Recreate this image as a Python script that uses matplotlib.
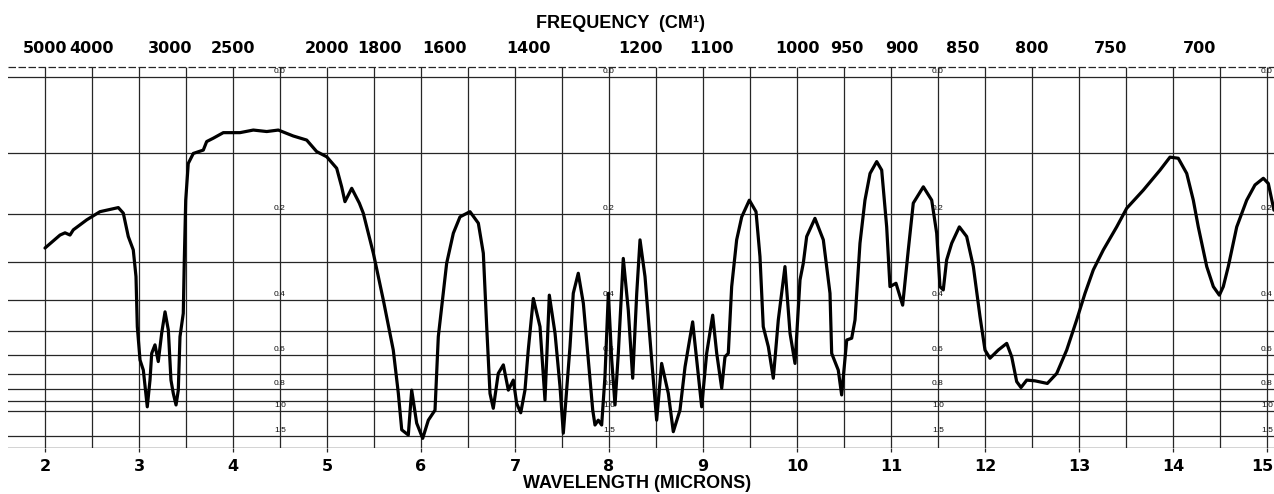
import numpy as np
import matplotlib
matplotlib.use("Agg")
import matplotlib.pyplot as plt
from matplotlib.transforms import offset_copy

# wavelength (microns) and percent transmittance
wavelength = [2.000, 2.160, 2.213, 2.266, 2.301, 2.444, 2.585, 2.780, 2.833, 2.886,
              2.939, 2.968, 2.982, 3.011, 3.046, 3.088, 3.117, 3.135, 3.170, 3.205,
              3.241, 3.277, 3.312, 3.340, 3.365, 3.394, 3.418, 3.436, 3.471, 3.482,
              3.497, 3.524, 3.578, 3.684, 3.720, 3.790, 3.897, 4.074, 4.216, 4.359,
              4.482, 4.641, 4.784, 4.890, 4.997, 5.103, 5.156, 5.191, 5.263, 5.344,
              5.386, 5.493, 5.599, 5.705, 5.759, 5.795, 5.865, 5.901, 5.954, 6.018,
              6.078, 6.149, 6.184, 6.273, 6.344, 6.415, 6.521, 6.610, 6.663, 6.699,
              6.734, 6.769, 6.822, 6.876, 6.929, 6.982, 7.018, 7.061, 7.106, 7.141,
              7.195, 7.266, 7.319, 7.365, 7.426, 7.479, 7.514, 7.585, 7.620, 7.673,
              7.727, 7.780, 7.827, 7.851, 7.886, 7.922, 7.957, 7.993, 8.029, 8.064,
              8.099, 8.152, 8.205, 8.252, 8.295, 8.330, 8.383, 8.454, 8.507, 8.560,
              8.631, 8.684, 8.755, 8.809, 8.890, 8.933, 8.986, 9.039, 9.103, 9.146,
              9.199, 9.234, 9.269, 9.305, 9.358, 9.412, 9.493, 9.564, 9.606, 9.641,
              9.695, 9.748, 9.801, 9.872, 9.926, 9.979, 10.032, 10.067, 10.103, 10.191,
              10.280, 10.351, 10.369, 10.439, 10.475, 10.529, 10.582, 10.617, 10.670, 10.723,
              10.777, 10.848, 10.901, 10.954, 10.989, 11.053, 11.124, 11.184, 11.237, 11.344,
              11.433, 11.486, 11.521, 11.556, 11.592, 11.646, 11.727, 11.805, 11.876, 11.947,
              12.000, 12.053, 12.141, 12.231, 12.284, 12.337, 12.383, 12.444, 12.532, 12.663,
              12.763, 12.869, 12.975, 13.064, 13.152, 13.259, 13.401, 13.507, 13.684, 13.862,
              13.968, 14.056, 14.146, 14.216, 14.269, 14.359, 14.429, 14.493, 14.535, 14.588,
              14.678, 14.784, 14.872, 14.961, 15.014, 15.074]
transmittance = [53.9, 57.4, 58.0, 57.4, 58.8, 61.5, 63.7, 64.8, 63.3, 57.0,
                 53.4, 46.2, 32.7, 23.7, 21.0, 11.1, 18.3, 25.5, 27.8, 23.3,
                 30.9, 36.7, 31.8, 18.3, 14.7, 11.6, 15.6, 30.0, 36.3, 50.7,
                 66.8, 76.7, 79.4, 80.3, 82.6, 83.5, 85.0, 85.0, 85.7, 85.3,
                 85.7, 84.1, 83.0, 79.9, 78.5, 75.4, 70.4, 66.4, 70.0, 66.0,
                 63.3, 52.5, 39.9, 26.4, 14.7, 4.9, 3.5, 15.6, 6.7, 2.6,
                 7.5, 10.2, 30.0, 49.8, 57.9, 62.3, 63.7, 60.6, 52.5, 32.7,
                 14.7, 10.7, 20.1, 22.4, 15.6, 18.3, 12.0, 9.5, 15.6, 26.4,
                 40.3, 32.7, 12.9, 41.2, 30.9, 16.5, 4.0, 27.3, 41.7, 47.1,
                 39.0, 23.7, 10.2, 6.2, 7.5, 6.2, 19.2, 41.7, 23.7, 11.6,
                 25.5, 51.1, 37.2, 18.8, 41.7, 56.1, 46.2, 23.7, 7.5, 22.8,
                 14.7, 4.4, 10.2, 21.9, 34.0, 23.7, 11.1, 25.5, 35.8, 25.5,
                 16.1, 24.6, 25.5, 43.5, 56.1, 62.3, 66.8, 63.7, 51.6, 32.7,
                 27.3, 18.8, 34.5, 48.9, 30.9, 22.8, 45.3, 49.8, 57.0, 61.9,
                 56.1, 41.7, 25.5, 21.0, 14.3, 29.1, 29.6, 34.5, 55.2, 66.8,
                 74.0, 77.2, 74.9, 59.6, 43.5, 44.4, 38.5, 53.4, 66.0, 70.4,
                 66.8, 57.9, 43.5, 42.6, 50.7, 55.2, 59.6, 57.0, 48.9, 35.4,
                 26.4, 24.2, 26.4, 28.2, 24.6, 17.9, 16.3, 18.3, 18.1, 17.4,
                 20.1, 26.4, 34.5, 41.7, 48.0, 53.4, 59.6, 64.6, 69.5, 74.9,
                 78.4, 78.1, 74.0, 66.8, 59.6, 48.9, 43.5, 41.2, 43.5, 48.9,
                 59.6, 66.8, 70.9, 72.7, 71.3, 64.1]

# chart paper
absorbance_lines = [0.0, 0.1, 0.2, 0.3, 0.4, 0.5, 0.6, 0.7, 0.8, 0.9, 1.0, 1.5]
absorbance_labels = [0.0, 0.2, 0.4, 0.6, 0.8, 1.0, 1.5]
label_columns = [4.5, 8.0, 11.5, 15.0]
freq_ticks = [5000, 4000, 3000, 2500, 2000, 1800, 1600, 1400, 1200, 1100,
              1000, 950, 900, 850, 800, 750, 700]
wl_ticks = list(range(2, 16))

FONT = "Liberation Sans"
NUMFONT = "DejaVu Sans"

fig = plt.figure(figsize=(12.74, 4.94), dpi=100)
W, H = 1274, 494
# axes spans pixels x 8..1274, y 67..448
ax = fig.add_axes([8 / W, (H - 448) / H, (W - 8) / W, (448 - 67) / H])
xmin = 2 + (8 - 45) / 94
xmax = 2 + (1274 - 45) / 94
ytop = 100 * (448 - 67) / 371
ax.set_xlim(xmin, xmax)
ax.set_ylim(0, ytop)

gc = "#262626"
# vertical grid every half micron
ax.vlines(np.arange(2, 15.01, 0.5), 0, ytop, color=gc, lw=0.9, zorder=1)
# horizontal lines at absorbance values
for a in absorbance_lines:
    ax.axhline(100 * 10 ** (-a), color=gc, lw=0.9, zorder=1)
ax.axhline(0, color=gc, lw=1.0, zorder=1)
ax.axhline(ytop, color=gc, lw=0.9, ls=(0, (6, 2)), zorder=1, clip_on=False)

for col in label_columns:
    for a in absorbance_labels:
        ax.text(col, 100 * 10 ** (-a) + 0.6, f"{a:.1f}", ha="center", va="bottom",
                fontsize=6, family=FONT, color="#111", zorder=2)

ax.plot(wavelength, transmittance, color="black", lw=2.3,
        solid_joinstyle="round", solid_capstyle="round", zorder=3)

for s in ax.spines.values():
    s.set_visible(False)
ax.set_yticks([])
ax.set_xticks(wl_ticks)
ax.set_xticklabels([str(t) for t in wl_ticks], family=NUMFONT, fontsize=11.5,
                   fontweight="bold")
ax.tick_params(axis="x", direction="out", length=3, width=0.9, color=gc, pad=5)
# keep the last label inside the picture
last = ax.get_xticklabels()[-1]
last.set_transform(offset_copy(last.get_transform(), fig=fig, x=-5, y=0, units="dots"))

# frequency scale on top
top = ax.twiny()
top.set_xlim(xmin, xmax)
top.set_xticks([10000 / f for f in freq_ticks])
top.set_xticklabels([str(f) for f in freq_ticks], family=NUMFONT, fontsize=11.5,
                    fontweight="bold")
top.tick_params(axis="x", length=0, pad=8)
for s in top.spines.values():
    s.set_visible(False)

fig.text(621 / W, 1 - 24 / H, "FREQUENCY  (CM\u00b9)", ha="center", va="center",
         family=FONT, fontsize=13, fontweight="bold")
fig.text(637 / W, 1 - 483 / H, "WAVELENGTH (MICRONS)", ha="center", va="center",
         family=FONT, fontsize=13, fontweight="bold")

fig.savefig("out.png", dpi=100)
